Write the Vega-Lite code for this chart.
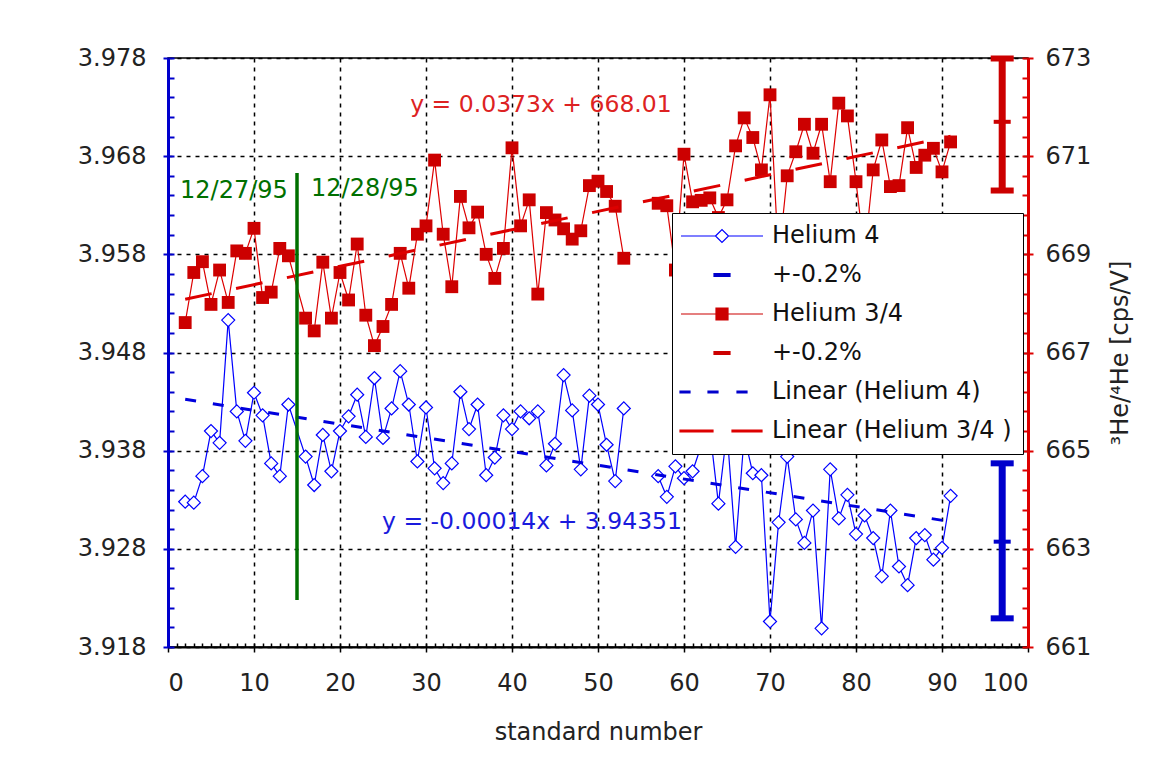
{
  "$schema": "https://vega.github.io/schema/vega-lite/v6.json",
  "width": 860,
  "height": 589,
  "autosize": {"type": "none"},
  "padding": {"left": 168, "top": 58, "right": 124, "bottom": 122},
  "background": "white",
  "config": {
    "font": "DejaVu Sans",
    "view": {"stroke": "black", "strokeWidth": 1.5},
    "axis": {"labelFont": "DejaVu Sans", "titleFont": "DejaVu Sans", "titleFontWeight": "normal", "labelFontSize": 24, "titleFontSize": 24, "labelColor": "#222", "titleColor": "#222"},
    "legend": {"orient": "none", "legendX": 504, "legendY": 155, "strokeColor": "black", "fillColor": "white", "padding": 11,
               "symbolSize": 400, "symbolOffset": 27, "labelOffset": 38, "rowPadding": 15,
               "labelFontSize": 24, "labelFont": "DejaVu Sans", "labelColor": "#111", "labelLimit": 400, "symbolStrokeWidth": 1.2, "symbolOpacity": 1}
  },
  "datasets": {
    "he4": [
      {"x": 2, "v": 3.9328, "seg": 1},
      {"x": 3, "v": 3.9327, "seg": 1},
      {"x": 4, "v": 3.9354, "seg": 1},
      {"x": 5, "v": 3.9400, "seg": 1},
      {"x": 6, "v": 3.9388, "seg": 1},
      {"x": 7, "v": 3.9513, "seg": 1},
      {"x": 8, "v": 3.9420, "seg": 1},
      {"x": 9, "v": 3.9390, "seg": 1},
      {"x": 10, "v": 3.9439, "seg": 1},
      {"x": 11, "v": 3.9416, "seg": 1},
      {"x": 12, "v": 3.9367, "seg": 1},
      {"x": 13, "v": 3.9354, "seg": 1},
      {"x": 14, "v": 3.9427, "seg": 1},
      {"x": 16, "v": 3.9374, "seg": 1},
      {"x": 17, "v": 3.9345, "seg": 1},
      {"x": 18, "v": 3.9396, "seg": 1},
      {"x": 19, "v": 3.9359, "seg": 1},
      {"x": 20, "v": 3.9400, "seg": 1},
      {"x": 21, "v": 3.9415, "seg": 1},
      {"x": 22, "v": 3.9437, "seg": 1},
      {"x": 23, "v": 3.9394, "seg": 1},
      {"x": 24, "v": 3.9454, "seg": 1},
      {"x": 25, "v": 3.9393, "seg": 1},
      {"x": 26, "v": 3.9423, "seg": 1},
      {"x": 27, "v": 3.9461, "seg": 1},
      {"x": 28, "v": 3.9427, "seg": 1},
      {"x": 29, "v": 3.9369, "seg": 1},
      {"x": 30, "v": 3.9424, "seg": 1},
      {"x": 31, "v": 3.9362, "seg": 1},
      {"x": 32, "v": 3.9347, "seg": 1},
      {"x": 33, "v": 3.9367, "seg": 1},
      {"x": 34, "v": 3.9440, "seg": 1},
      {"x": 35, "v": 3.9402, "seg": 1},
      {"x": 36, "v": 3.9427, "seg": 1},
      {"x": 37, "v": 3.9355, "seg": 1},
      {"x": 38, "v": 3.9373, "seg": 1},
      {"x": 39, "v": 3.9416, "seg": 1},
      {"x": 40, "v": 3.9402, "seg": 1},
      {"x": 41, "v": 3.9420, "seg": 1},
      {"x": 42, "v": 3.9413, "seg": 1},
      {"x": 43, "v": 3.9420, "seg": 1},
      {"x": 44, "v": 3.9365, "seg": 1},
      {"x": 45, "v": 3.9387, "seg": 1},
      {"x": 46, "v": 3.9457, "seg": 1},
      {"x": 47, "v": 3.9421, "seg": 1},
      {"x": 48, "v": 3.9361, "seg": 1},
      {"x": 49, "v": 3.9436, "seg": 1},
      {"x": 50, "v": 3.9427, "seg": 1},
      {"x": 51, "v": 3.9386, "seg": 1},
      {"x": 52, "v": 3.9349, "seg": 1},
      {"x": 53, "v": 3.9423, "seg": 1},
      {"x": 57, "v": 3.9354, "seg": 2},
      {"x": 58, "v": 3.9333, "seg": 2},
      {"x": 59, "v": 3.9364, "seg": 2},
      {"x": 60, "v": 3.9352, "seg": 2},
      {"x": 61, "v": 3.9359, "seg": 2},
      {"x": 62, "v": 3.9385, "seg": 2},
      {"x": 63, "v": 3.9402, "seg": 2},
      {"x": 64, "v": 3.9326, "seg": 2},
      {"x": 65, "v": 3.9400, "seg": 2},
      {"x": 66, "v": 3.9282, "seg": 2},
      {"x": 67, "v": 3.9395, "seg": 2},
      {"x": 68, "v": 3.9357, "seg": 2},
      {"x": 69, "v": 3.9355, "seg": 2},
      {"x": 70, "v": 3.9206, "seg": 2},
      {"x": 71, "v": 3.9307, "seg": 2},
      {"x": 72, "v": 3.9374, "seg": 2},
      {"x": 73, "v": 3.9310, "seg": 2},
      {"x": 74, "v": 3.9286, "seg": 2},
      {"x": 75, "v": 3.9319, "seg": 2},
      {"x": 76, "v": 3.9199, "seg": 2},
      {"x": 77, "v": 3.9361, "seg": 2},
      {"x": 78, "v": 3.9311, "seg": 2},
      {"x": 79, "v": 3.9335, "seg": 2},
      {"x": 80, "v": 3.9295, "seg": 2},
      {"x": 81, "v": 3.9314, "seg": 2},
      {"x": 82, "v": 3.9291, "seg": 2},
      {"x": 83, "v": 3.9252, "seg": 2},
      {"x": 84, "v": 3.9319, "seg": 2},
      {"x": 85, "v": 3.9262, "seg": 2},
      {"x": 86, "v": 3.9243, "seg": 2},
      {"x": 87, "v": 3.9291, "seg": 2},
      {"x": 88, "v": 3.9294, "seg": 2},
      {"x": 89, "v": 3.9269, "seg": 2},
      {"x": 90, "v": 3.9281, "seg": 2},
      {"x": 91, "v": 3.9334, "seg": 2}
    ],
    "he34": [
      {"x": 2, "v": 667.61, "seg": 1},
      {"x": 3, "v": 668.63, "seg": 1},
      {"x": 4, "v": 668.85, "seg": 1},
      {"x": 5, "v": 667.98, "seg": 1},
      {"x": 6, "v": 668.68, "seg": 1},
      {"x": 7, "v": 668.02, "seg": 1},
      {"x": 8, "v": 669.07, "seg": 1},
      {"x": 9, "v": 669.02, "seg": 1},
      {"x": 10, "v": 669.53, "seg": 1},
      {"x": 11, "v": 668.12, "seg": 1},
      {"x": 12, "v": 668.23, "seg": 1},
      {"x": 13, "v": 669.12, "seg": 1},
      {"x": 14, "v": 668.97, "seg": 1},
      {"x": 16, "v": 667.70, "seg": 1},
      {"x": 17, "v": 667.44, "seg": 1},
      {"x": 18, "v": 668.84, "seg": 1},
      {"x": 19, "v": 667.70, "seg": 1},
      {"x": 20, "v": 668.63, "seg": 1},
      {"x": 21, "v": 668.07, "seg": 1},
      {"x": 22, "v": 669.21, "seg": 1},
      {"x": 23, "v": 667.76, "seg": 1},
      {"x": 24, "v": 667.14, "seg": 1},
      {"x": 25, "v": 667.53, "seg": 1},
      {"x": 26, "v": 667.98, "seg": 1},
      {"x": 27, "v": 669.02, "seg": 1},
      {"x": 28, "v": 668.31, "seg": 1},
      {"x": 29, "v": 669.41, "seg": 1},
      {"x": 30, "v": 669.58, "seg": 1},
      {"x": 31, "v": 670.92, "seg": 1},
      {"x": 32, "v": 669.41, "seg": 1},
      {"x": 33, "v": 668.34, "seg": 1},
      {"x": 34, "v": 670.18, "seg": 1},
      {"x": 35, "v": 669.54, "seg": 1},
      {"x": 36, "v": 669.86, "seg": 1},
      {"x": 37, "v": 669.00, "seg": 1},
      {"x": 38, "v": 668.51, "seg": 1},
      {"x": 39, "v": 669.12, "seg": 1},
      {"x": 40, "v": 671.17, "seg": 1},
      {"x": 41, "v": 669.58, "seg": 1},
      {"x": 42, "v": 670.11, "seg": 1},
      {"x": 43, "v": 668.19, "seg": 1},
      {"x": 44, "v": 669.85, "seg": 1},
      {"x": 45, "v": 669.70, "seg": 1},
      {"x": 46, "v": 669.52, "seg": 1},
      {"x": 47, "v": 669.31, "seg": 1},
      {"x": 48, "v": 669.48, "seg": 1},
      {"x": 49, "v": 670.40, "seg": 1},
      {"x": 50, "v": 670.49, "seg": 1},
      {"x": 51, "v": 670.28, "seg": 1},
      {"x": 52, "v": 669.98, "seg": 1},
      {"x": 53, "v": 668.92, "seg": 1},
      {"x": 57, "v": 670.04, "seg": 2},
      {"x": 58, "v": 669.99, "seg": 2},
      {"x": 59, "v": 668.68, "seg": 2},
      {"x": 60, "v": 671.04, "seg": 2},
      {"x": 61, "v": 670.07, "seg": 2},
      {"x": 62, "v": 670.10, "seg": 2},
      {"x": 63, "v": 670.15, "seg": 2},
      {"x": 64, "v": 669.75, "seg": 2},
      {"x": 65, "v": 670.11, "seg": 2},
      {"x": 66, "v": 671.21, "seg": 2},
      {"x": 67, "v": 671.78, "seg": 2},
      {"x": 68, "v": 671.38, "seg": 2},
      {"x": 69, "v": 670.72, "seg": 2},
      {"x": 70, "v": 672.25, "seg": 2},
      {"x": 71, "v": 668.90, "seg": 2},
      {"x": 72, "v": 670.60, "seg": 2},
      {"x": 73, "v": 671.09, "seg": 2},
      {"x": 74, "v": 671.65, "seg": 2},
      {"x": 75, "v": 671.06, "seg": 2},
      {"x": 76, "v": 671.65, "seg": 2},
      {"x": 77, "v": 670.48, "seg": 2},
      {"x": 78, "v": 672.08, "seg": 2},
      {"x": 79, "v": 671.82, "seg": 2},
      {"x": 80, "v": 670.48, "seg": 2},
      {"x": 81, "v": 669.00, "seg": 2},
      {"x": 82, "v": 670.72, "seg": 2},
      {"x": 83, "v": 671.33, "seg": 2},
      {"x": 84, "v": 670.38, "seg": 2},
      {"x": 85, "v": 670.40, "seg": 2},
      {"x": 86, "v": 671.58, "seg": 2},
      {"x": 87, "v": 670.77, "seg": 2},
      {"x": 88, "v": 671.02, "seg": 2},
      {"x": 89, "v": 671.16, "seg": 2},
      {"x": 90, "v": 670.68, "seg": 2},
      {"x": 91, "v": 671.29, "seg": 2}
    ],
    "trend4": [{"x": 2, "v": 3.94323}, {"x": 91, "v": 3.93077}],
    "trend34": [{"x": 2, "v": 668.0846}, {"x": 91, "v": 671.4043}],
    "bar4": [{"x": 97, "lo": 3.92092, "hi": 3.93671}],
    "cap4": [{"x": 97, "v": 3.92092}, {"x": 97, "v": 3.93671}],
    "mid4": [{"x": 97, "v": 3.92873}],
    "bar34": [{"x": 97, "lo": 670.30, "hi": 672.99}],
    "cap34": [{"x": 97, "v": 670.30}, {"x": 97, "v": 672.99}],
    "mid34": [{"x": 97, "v": 671.70}],
    "green": [{"x": 15, "lo": 3.92279, "hi": 3.96629}],
    "dates": [{"x": 7.67, "v": 3.96445, "t": "12/27/95"}, {"x": 22.9, "v": 3.96466, "t": "12/28/95"}],
    "eq4": [{"x": 42.33, "v": 3.93073, "t": "y = -0.00014x + 3.94351"}],
    "eq34": [{"x": 43.37, "v": 672.04, "t": "y = 0.0373x + 668.01"}],
    "legendkeys": []
  },
  "resolve": {"scale": {"x": "independent", "y": "independent"}},
  "layer": [
    {
      "data": {"name": "he4"},
      "mark": {"type": "line", "color": "#0000ff", "strokeWidth": 1.2},
      "encoding": {
        "x": {"field": "x", "type": "quantitative", "scale": {"domain": [0, 100], "nice": false, "zero": false}, "axis": null},
        "y": {"field": "v", "type": "quantitative", "scale": {"domain": [3.918, 3.978], "nice": false, "zero": false},
              "axis": {"orient": "left", "values": [3.918,3.920,3.922,3.924,3.926,3.928,3.930,3.932,3.934,3.936,3.938,3.940,3.942,3.944,3.946,3.948,3.950,3.952,3.954,3.956,3.958,3.960,3.962,3.964,3.966,3.968,3.970,3.972,3.974,3.976,3.978],
                       "labels": false, "domain": false, "grid": false, "title": null, "tickSize": -6, "tickColor": "#0000cc", "tickWidth": 2}},
        "detail": {"field": "seg"}
      }
    },
    {
      "data": {"name": "he34"},
      "mark": {"type": "line", "color": "#dd0000", "strokeWidth": 1.2},
      "encoding": {
        "x": {"field": "x", "type": "quantitative", "scale": {"domain": [0, 100], "nice": false, "zero": false},
              "axis": {"orient": "bottom", "values": [0,1,2,3,4,5,6,7,8,9,10,11,12,13,14,15,16,17,18,19,20,21,22,23,24,25,26,27,28,29,30,31,32,33,34,35,36,37,38,39,40,41,42,43,44,45,46,47,48,49,50,51,52,53,54,55,56,57,58,59,60,61,62,63,64,65,66,67,68,69,70,71,72,73,74,75,76,77,78,79,80,81,82,83,84,85,86,87,88,89,90,91,92,93,94,95,96,97,98,99,100],
                       "labels": false, "domain": false, "grid": false, "title": null, "tickSize": -4, "tickColor": "black", "tickWidth": 1.5}},
        "y": {"field": "v", "type": "quantitative", "scale": {"domain": [661, 673], "nice": false, "zero": false},
              "axis": {"orient": "right", "values": [661,661.4,661.8,662.2,662.6,663,663.4,663.8,664.2,664.6,665,665.4,665.8,666.2,666.6,667,667.4,667.8,668.2,668.6,669,669.4,669.8,670.2,670.6,671,671.4,671.8,672.2,672.6,673],
                       "labels": false, "domain": false, "grid": false, "title": null, "tickSize": -6, "tickColor": "#dd0000", "tickWidth": 2}},
        "detail": {"field": "seg"}
      }
    },
    {
      "data": {"name": "he34"},
      "mark": {"type": "point", "shape": "square", "filled": true, "size": 165, "color": "#cc0000", "opacity": 1},
      "encoding": {
        "x": {"field": "x", "type": "quantitative", "scale": {"domain": [0, 100], "nice": false, "zero": false}, "axis": null},
        "y": {"field": "v", "type": "quantitative", "scale": {"domain": [661, 673], "nice": false, "zero": false},
              "axis": {"orient": "right", "values": [661, 663, 665, 667, 669, 671, 673], "format": "d", "tickSize": 5, "tickColor": "#dd0000", "tickWidth": 2, "domainColor": "#dd0000", "domainWidth": 3, "grid": false, "labelPadding": 12,
                       "title": "³He/⁴He [cps/V]", "titleAngle": 270, "titlePadding": 42}}
      }
    },
    {
      "data": {"name": "he4"},
      "mark": {"type": "point", "shape": "diamond", "filled": false, "color": "#0000ff", "fill": "white", "fillOpacity": 1, "size": 170, "strokeWidth": 1.2, "opacity": 1},
      "encoding": {
        "x": {"field": "x", "type": "quantitative", "scale": {"domain": [0, 100], "nice": false, "zero": false},
              "axis": {"orient": "bottom", "values": [0,10,20,30,40,50,60,70,80,90,100], "format": "d", "tickSize": 5, "tickColor": "black", "tickWidth": 1.5, "domainColor": "black", "domainWidth": 2, "labelPadding": 19,
                       "grid": true, "gridColor": "black", "gridDash": [4, 5], "gridWidth": 1.5, "title": "standard number", "titlePadding": 25}},
        "y": {"field": "v", "type": "quantitative", "scale": {"domain": [3.918, 3.978], "nice": false, "zero": false},
              "axis": {"orient": "left", "values": [3.918, 3.928, 3.938, 3.948, 3.958, 3.968, 3.978], "format": ".3f", "tickSize": 5, "tickColor": "#0000cc", "tickWidth": 2, "domainColor": "#0000cc", "domainWidth": 3, "labelPadding": 17,
                       "grid": true, "gridColor": "black", "gridDash": [4, 5], "gridWidth": 1.5, "title": null}}
      }
    },
    {
      "data": {"name": "trend4"},
      "mark": {"type": "line", "color": "#0000dd", "strokeWidth": 3, "strokeDash": [11, 17]},
      "encoding": {
        "x": {"field": "x", "type": "quantitative", "scale": {"domain": [0, 100], "nice": false, "zero": false}, "axis": null},
        "y": {"field": "v", "type": "quantitative", "scale": {"domain": [3.918, 3.978], "nice": false, "zero": false}, "axis": null}
      }
    },
    {
      "data": {"name": "trend34"},
      "mark": {"type": "line", "color": "#dd0000", "strokeWidth": 3, "strokeDash": [27, 25]},
      "encoding": {
        "x": {"field": "x", "type": "quantitative", "scale": {"domain": [0, 100], "nice": false, "zero": false}, "axis": null},
        "y": {"field": "v", "type": "quantitative", "scale": {"domain": [661, 673], "nice": false, "zero": false}, "axis": null}
      }
    },
    {
      "data": {"name": "bar4"},
      "mark": {"type": "rule", "color": "#0000cc", "strokeWidth": 7},
      "encoding": {
        "x": {"field": "x", "type": "quantitative", "scale": {"domain": [0, 100], "nice": false, "zero": false}, "axis": null},
        "y": {"field": "lo", "type": "quantitative", "scale": {"domain": [3.918, 3.978], "nice": false, "zero": false}, "axis": null},
        "y2": {"field": "hi"}
      }
    },
    {
      "data": {"name": "cap4"},
      "mark": {"type": "tick", "orient": "horizontal", "color": "#0000cc", "size": 23, "thickness": 6, "opacity": 1},
      "encoding": {
        "x": {"field": "x", "type": "quantitative", "scale": {"domain": [0, 100], "nice": false, "zero": false}, "axis": null},
        "y": {"field": "v", "type": "quantitative", "scale": {"domain": [3.918, 3.978], "nice": false, "zero": false}, "axis": null}
      }
    },
    {
      "data": {"name": "mid4"},
      "mark": {"type": "tick", "orient": "horizontal", "color": "#0000cc", "size": 17, "thickness": 4, "opacity": 1},
      "encoding": {
        "x": {"field": "x", "type": "quantitative", "scale": {"domain": [0, 100], "nice": false, "zero": false}, "axis": null},
        "y": {"field": "v", "type": "quantitative", "scale": {"domain": [3.918, 3.978], "nice": false, "zero": false}, "axis": null}
      }
    },
    {
      "data": {"name": "bar34"},
      "mark": {"type": "rule", "color": "#cc0000", "strokeWidth": 7},
      "encoding": {
        "x": {"field": "x", "type": "quantitative", "scale": {"domain": [0, 100], "nice": false, "zero": false}, "axis": null},
        "y": {"field": "lo", "type": "quantitative", "scale": {"domain": [661, 673], "nice": false, "zero": false}, "axis": null},
        "y2": {"field": "hi"}
      }
    },
    {
      "data": {"name": "cap34"},
      "mark": {"type": "tick", "orient": "horizontal", "color": "#cc0000", "size": 23, "thickness": 6, "opacity": 1},
      "encoding": {
        "x": {"field": "x", "type": "quantitative", "scale": {"domain": [0, 100], "nice": false, "zero": false}, "axis": null},
        "y": {"field": "v", "type": "quantitative", "scale": {"domain": [661, 673], "nice": false, "zero": false}, "axis": null}
      }
    },
    {
      "data": {"name": "mid34"},
      "mark": {"type": "tick", "orient": "horizontal", "color": "#cc0000", "size": 17, "thickness": 4, "opacity": 1},
      "encoding": {
        "x": {"field": "x", "type": "quantitative", "scale": {"domain": [0, 100], "nice": false, "zero": false}, "axis": null},
        "y": {"field": "v", "type": "quantitative", "scale": {"domain": [661, 673], "nice": false, "zero": false}, "axis": null}
      }
    },
    {
      "data": {"name": "green"},
      "mark": {"type": "rule", "color": "#007000", "strokeWidth": 3.5},
      "encoding": {
        "x": {"field": "x", "type": "quantitative", "scale": {"domain": [0, 100], "nice": false, "zero": false}, "axis": null},
        "y": {"field": "lo", "type": "quantitative", "scale": {"domain": [3.918, 3.978], "nice": false, "zero": false}, "axis": null},
        "y2": {"field": "hi"}
      }
    },
    {
      "data": {"name": "dates"},
      "mark": {"type": "text", "color": "#007000", "fontSize": 24, "font": "DejaVu Sans", "align": "center", "baseline": "middle"},
      "encoding": {
        "x": {"field": "x", "type": "quantitative", "scale": {"domain": [0, 100], "nice": false, "zero": false}, "axis": null},
        "y": {"field": "v", "type": "quantitative", "scale": {"domain": [3.918, 3.978], "nice": false, "zero": false}, "axis": null},
        "text": {"field": "t"}
      }
    },
    {
      "data": {"name": "eq4"},
      "mark": {"type": "text", "color": "#1a1add", "fontSize": 23.5, "font": "DejaVu Sans", "align": "center", "baseline": "middle"},
      "encoding": {
        "x": {"field": "x", "type": "quantitative", "scale": {"domain": [0, 100], "nice": false, "zero": false}, "axis": null},
        "y": {"field": "v", "type": "quantitative", "scale": {"domain": [3.918, 3.978], "nice": false, "zero": false}, "axis": null},
        "text": {"field": "t"}
      }
    },
    {
      "data": {"name": "eq34"},
      "mark": {"type": "text", "color": "#dd2222", "fontSize": 23.5, "font": "DejaVu Sans", "align": "center", "baseline": "middle"},
      "encoding": {
        "x": {"field": "x", "type": "quantitative", "scale": {"domain": [0, 100], "nice": false, "zero": false}, "axis": null},
        "y": {"field": "v", "type": "quantitative", "scale": {"domain": [661, 673], "nice": false, "zero": false}, "axis": null},
        "text": {"field": "t"}
      }
    },
    {
      "data": {"name": "legendkeys"},
      "mark": {"type": "point", "opacity": 1, "strokeWidth": 1.2},
      "encoding": {
        "fill": {"field": "series", "type": "nominal",
                 "scale": {"domain": ["Helium 4", "err4", "Helium 3/4", "err34", "lin4", "lin34"], "range": ["white", "#0000cc", "#cc0000", "#cc0000", "#0000cc", "#dd0000"]},
                 "legend": {"title": null, "labelExpr": "datum.value === 'err4' || datum.value === 'err34' ? '+-0.2%' : datum.value === 'lin4' ? 'Linear (Helium 4)' : datum.value === 'lin34' ? 'Linear (Helium 3/4 )' : datum.value"}},
        "stroke": {"field": "series", "type": "nominal",
                 "scale": {"domain": ["Helium 4", "err4", "Helium 3/4", "err34", "lin4", "lin34"], "range": ["#0000ff", "#0000cc", "#cc0000", "#cc0000", "#0000cc", "#dd0000"]},
                 "legend": {"title": null, "labelExpr": "datum.value === 'err4' || datum.value === 'err34' ? '+-0.2%' : datum.value === 'lin4' ? 'Linear (Helium 4)' : datum.value === 'lin34' ? 'Linear (Helium 3/4 )' : datum.value"}},
        "shape": {"field": "series", "type": "nominal",
                 "scale": {"domain": ["Helium 4", "err4", "Helium 3/4", "err34", "lin4", "lin34"],
                           "range": ["M-4.1,0H-0.65M0.65,0H4.1M-0.65,0L0,-0.65L0.65,0L0,0.65Z",
                                     "M-0.8,-0.15H0.8V0.15H-0.8Z",
                                     "M-4.1,0H4.1M-0.6,-0.6H0.6V0.6H-0.6Z",
                                     "M-0.8,-0.15H0.8V0.15H-0.8Z",
                                     "M-4.2,-0.09H-3.2V0.09H-4.2ZM-1.4,-0.09H-0.4V0.09H-1.4ZM1.5,-0.09H2.5V0.09H1.5Z",
                                     "M-4.2,-0.09H-0.9V0.09H-4.2ZM1.0,-0.09H4.0V0.09H1.0Z"]},
                 "legend": {"title": null, "labelExpr": "datum.value === 'err4' || datum.value === 'err34' ? '+-0.2%' : datum.value === 'lin4' ? 'Linear (Helium 4)' : datum.value === 'lin34' ? 'Linear (Helium 3/4 )' : datum.value"}}
      }
    }
  ]
}
